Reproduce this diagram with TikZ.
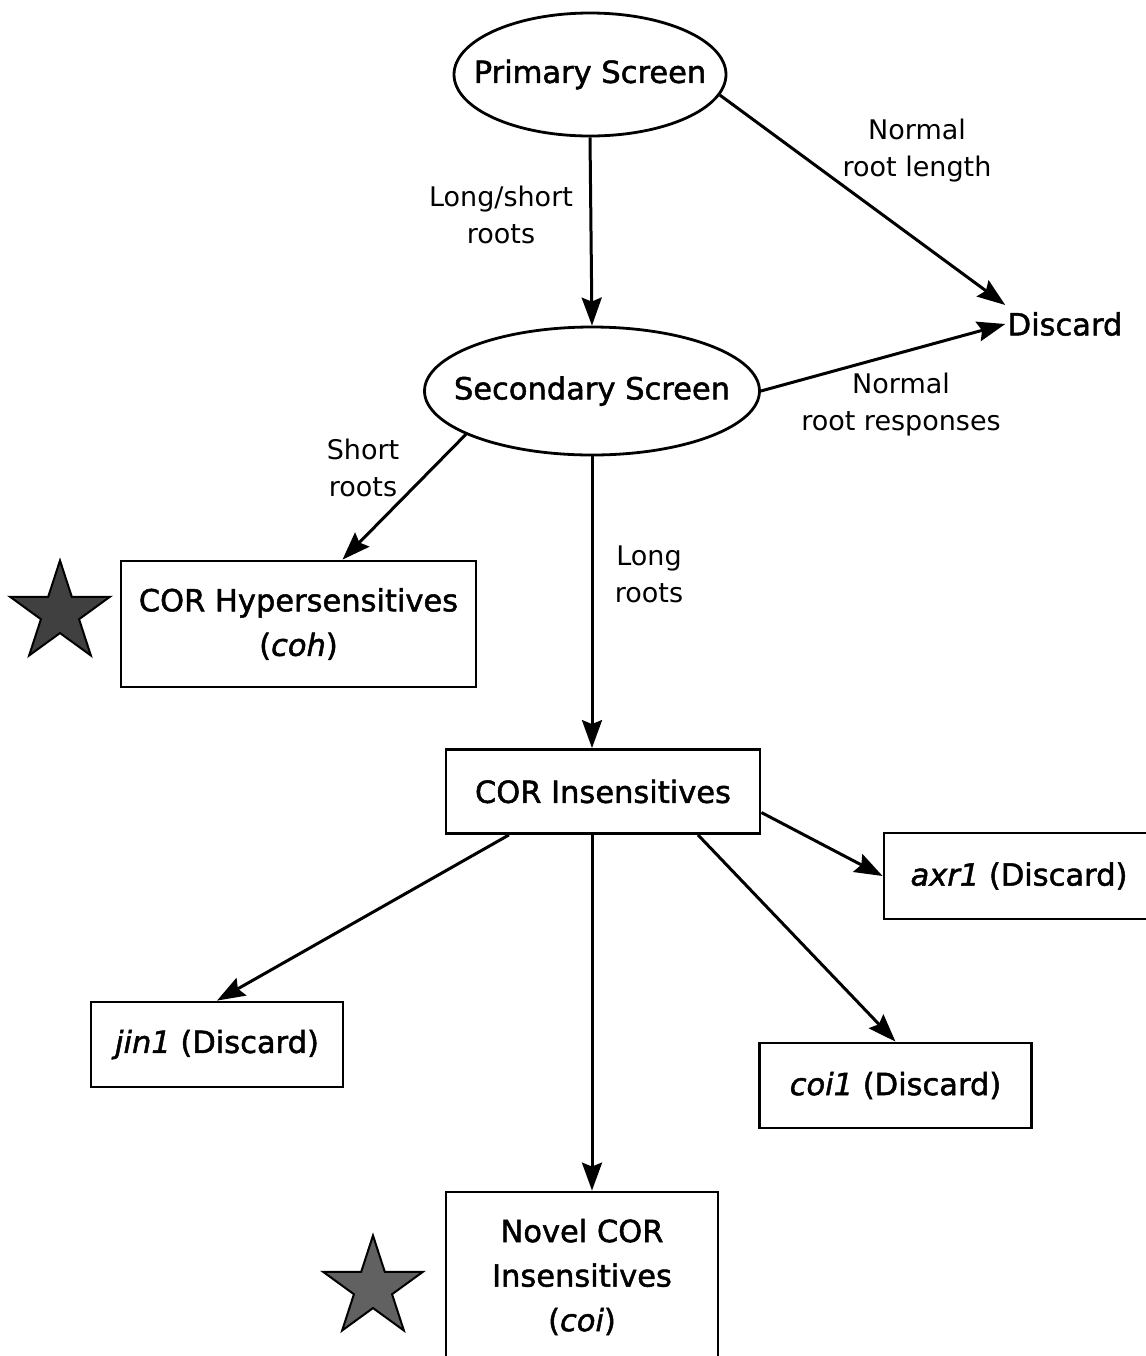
\documentclass[tikz,border=0pt]{standalone}
\usepackage{fontspec}
\setmainfont{DejaVu Sans}
\newfontfamily\heavyfont[FakeBold=1.6]{DejaVu Sans}
\usetikzlibrary{shapes.geometric,arrows.meta}

\tikzstyle{screen} = [ellipse, draw, line width=1.4pt, inner sep=0pt, font=\heavyfont\fontsize{15.25}{22.25}\selectfont]
\tikzstyle{block} = [rectangle, draw, line width=1.4pt, inner sep=0pt, align=center, font=\heavyfont\fontsize{15.25}{22.25}\selectfont]
\tikzstyle{lbl} = [align=center, inner sep=0pt, font=\fontsize{13.5}{18.5}\selectfont]
\tikzstyle{bigstar} = [star, star points=5, star point ratio=2.618, draw, line width=1pt, inner sep=0pt, minimum size=52.5pt]
\tikzstyle{arrow} = [line width=1.5pt,->,>={Stealth[length=14pt,width=10pt,inset=2pt]}]

\begin{document}
\begin{tikzpicture}[x=0.5pt, y=-0.5pt]
    \useasboundingbox (0,0) rectangle (1146,1356);
    % screens
    \node (node1) [screen, minimum width=136pt, minimum height=61.5pt] at (590,74.5) {\makebox[0pt]{Primary Screen}};
    \node (node2) [screen, minimum width=167.5pt, minimum height=64pt] at (592,391) {\makebox[0pt]{Secondary Screen}};
    \node (discard) [inner sep=1pt, font=\heavyfont\fontsize{15.25}{22.25}\selectfont] at (1065,324) {Discard};
    % mutant classes
    \node (node3) [block, minimum width=177.5pt, minimum height=63pt] at (298.5,624) {COR Hypersensitives\\(\textit{coh})};
    \node (node4) [block, minimum width=157pt, minimum height=42pt] at (603,791.5) {COR Insensitives};
    \node (node5) [block, minimum width=135pt, minimum height=43pt] at (1019,876) {\textit{axr1} (Discard)};
    \node (node6) [block, minimum width=126pt, minimum height=42.5pt] at (217,1044.5) {\textit{jin1} (Discard)};
    \node (node7) [block, minimum width=136pt, minimum height=42.5pt] at (895.5,1085.5) {\textit{coi1} (Discard)};
    \node (node8) [block, minimum width=136pt, minimum height=85pt] at (582,1277) {Novel COR\\Insensitives\\(\textit{coi})};
    % stars
    \node (star1) [bigstar, fill=black!75] at (60,613) {};
    \node (star2) [bigstar, fill=black!62] at (373,1288) {};
    % edge labels
    \node (lbl1) [lbl] at (501,214.5) {Long/short\\roots};
    \node (lbl2) [lbl] at (917,151) {Normal\\root length};
    \node (lbl3) [lbl] at (901,405) {Normal\\root responses};
    \node (lbl4) [lbl] at (363,468) {Short\\roots};
    \node (lbl5) [lbl] at (649,574.5) {Long\\roots};
    % arrows
    \draw [arrow] (node1.south) -- (node2.north);
    \draw [arrow] (node1.-9) -- ([yshift=9.5pt]discard.west);
    \draw [arrow] (node2.east) -- (discard.west);
    \draw [arrow] (node2.199) -- ([xshift=22pt]node3.north);
    \draw [arrow] (node2.south) -- (node2.south |- node4.north);
    \draw [arrow] ([yshift=-10.5pt]node4.east) -- (node5.west);
    \draw [arrow] ([xshift=-47pt]node4.south) -- (node6.north);
    \draw [arrow] ([xshift=47.5pt]node4.south) -- (node7.north);
    \draw [arrow] (node2.south |- node4.south) -- (node2.south |- node8.north);
\end{tikzpicture}
\end{document}
